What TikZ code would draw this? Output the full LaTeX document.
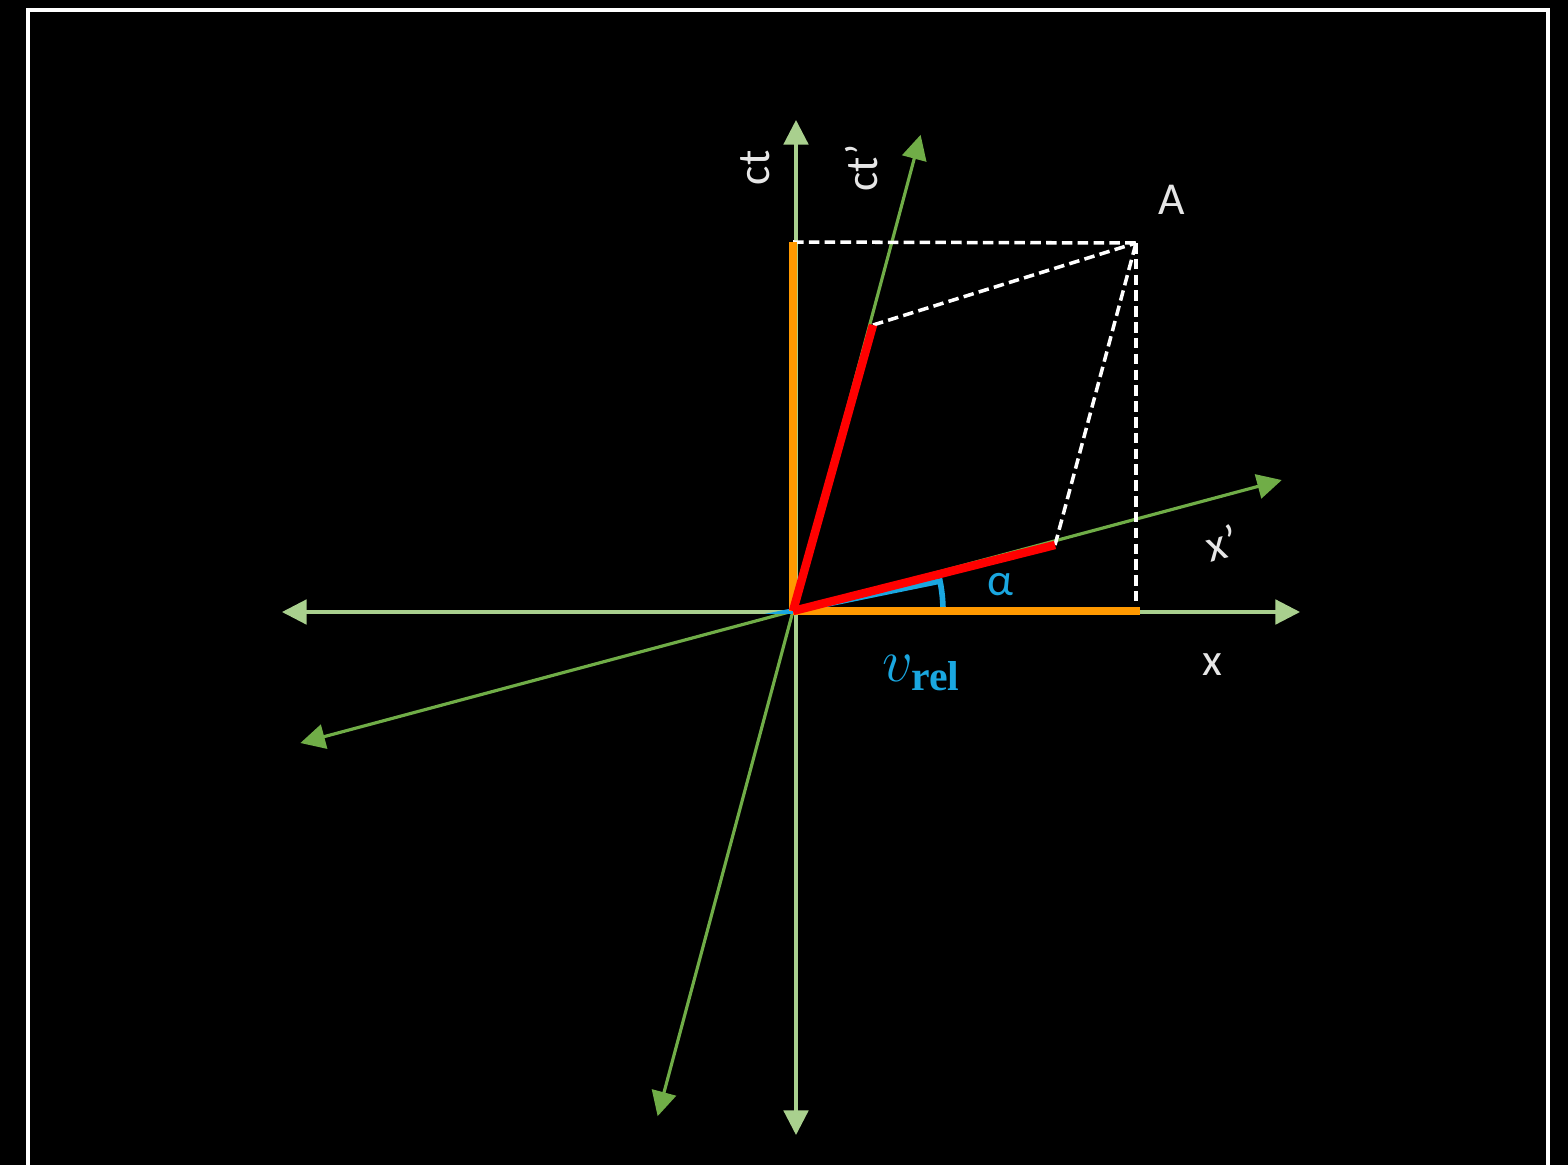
\documentclass[tikz,border=0pt]{standalone}
\usepackage{amsmath}
\usepackage{fontspec}
\setmainfont{Carlito}
\newfontfamily\relfont{Liberation Serif}
\usetikzlibrary{arrows.meta, calc}
\definecolor{axisgreen}{HTML}{A9D08E}
\definecolor{primegreen}{HTML}{70AD47}
\definecolor{projorange}{HTML}{FF9900}
\definecolor{projred}{HTML}{FF0000}
\definecolor{anglblue}{HTML}{1AA7E0}
\definecolor{labelgray}{HTML}{E6E6E6}

\begin{document}
\begin{tikzpicture}[
    font=\fontsize{13}{15}\selectfont,
    >={Triangle[length=7pt, width=7pt]},
    % Rest frame axes
    axis/.style={<->, draw=axisgreen, fill=axisgreen, line width=0.9pt},
    % Moving frame axes
    primeaxis/.style={<->, draw=primegreen, fill=primegreen, line width=0.9pt},
    % Components in the rest frame
    restcomp/.style={draw=projorange, line width=2.4pt},
    % Components in the moving frame
    movecomp/.style={draw=projred, line width=2.4pt},
    % Projection lines
    proj/.style={draw=white, dash pattern=on 3pt off 1.5pt, line width=1pt},
    % Angle mark
    anglemark/.style={draw=anglblue, line width=1.6pt},
    % Axis labels
    lbl/.style={text=labelgray, inner sep=1pt},
    bluelbl/.style={text=anglblue, inner sep=1pt}
]

% Background and frame
\fill[black] (0,0) rectangle (15.68,11.65);
\useasboundingbox (0,0) rectangle (15.68,11.65);
\draw[white, line width=1.2pt] (0.28,-0.5) -- (0.28,11.55) -- (15.48,11.55) -- (15.48,-0.5);

% Origin and event
\coordinate (O) at (7.93,5.54);
\coordinate (A) at (11.36,9.22);

% Axis end points
\coordinate (ctup) at (7.96,10.45);
\coordinate (ctdown) at (7.96,0.30);
\coordinate (xleft) at (2.82,5.53);
\coordinate (xright) at (13.00,5.53);
\coordinate (xpup) at ($(O)+(15:5.06)$);
\coordinate (xpdown) at ($(O)+(195:5.10)$);
\coordinate (ctpup) at ($(O)+(75:4.93)$);
\coordinate (ctpdown) at ($(O)+(255:5.23)$);

% Component end points
\coordinate (tA) at (7.93,9.23);
\coordinate (xA) at (11.40,5.54);
\coordinate (tpA) at (8.73,8.40);
\coordinate (xpA) at (10.55,6.20);
\coordinate (xfoot) at (11.36,5.54);

% Axes
\draw[axis] (ctdown) -- (ctup);
\draw[axis] (xleft) -- (xright);
\draw[primeaxis] (ctpdown) -- (ctpup);
\draw[primeaxis] (xpdown) -- (xpup);

% Projections of A
\draw[proj] (tA) -- (A);
\draw[proj] (tpA) -- (A);
\draw[proj] (xpA) -- (A);
\draw[proj] (A) -- (xfoot);

% Angle between x and x'
\draw[anglemark] (O) -- ++(0:1.5) arc[start angle=0, end angle=11.5, radius=1.5] -- cycle;

% Components
\draw[restcomp] (O) -- (tA);
\draw[restcomp] (O) -- (xA);
\draw[movecomp] (O) -- (tpA);
\draw[movecomp] (O) -- (xpA);

% Labels
\node[lbl, rotate=90] (ctlbl) at (7.55,9.97) {ct};
\node[lbl, rotate=90] (ctplbl) at (8.62,9.97) {ct'};
\node[lbl] (Albl) at (11.72,9.65) {A};
\node[lbl, rotate=15] (xplbl) at (12.22,6.22) {x'};
\node[lbl] (xlbl) at (12.12,5.00) {x};
\node[bluelbl] (alphalbl) at (10.00,5.80) {α};
\node[bluelbl, font=\fontsize{17}{19}\selectfont] (vlbl) at (9.22,4.92) {$v_{\text{\relfont\bfseries rel}}$};

\end{tikzpicture}
\end{document}
